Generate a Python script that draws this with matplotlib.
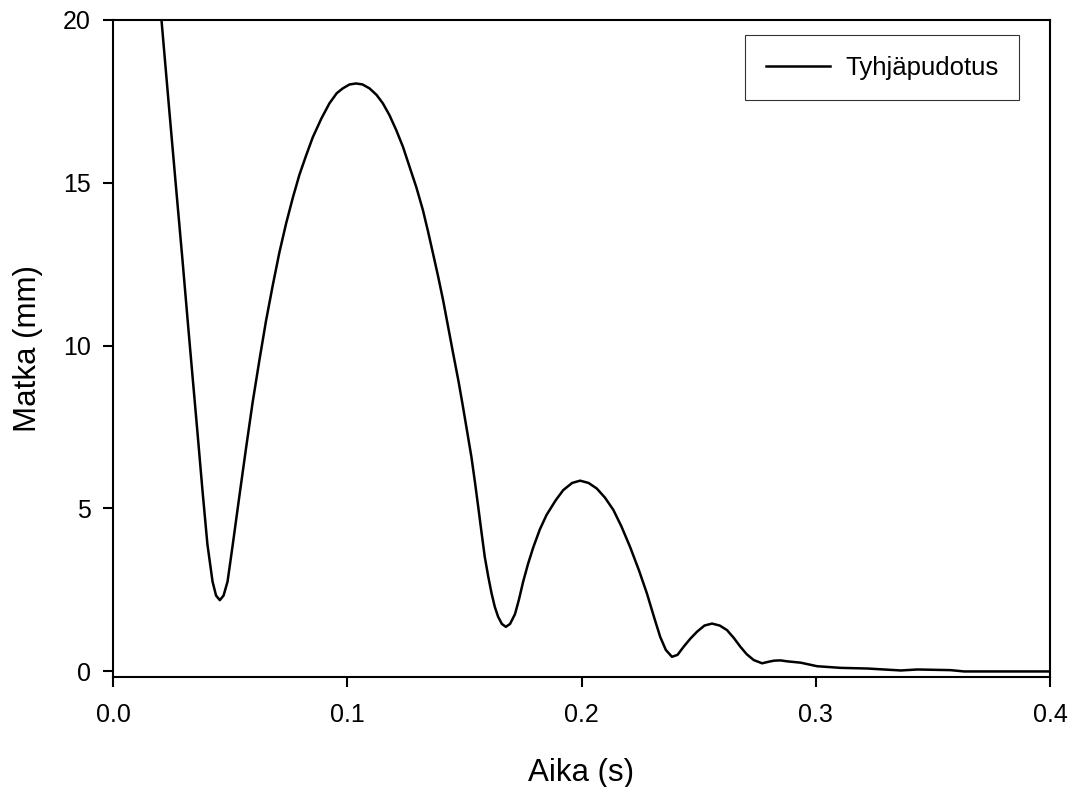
import matplotlib
matplotlib.use("Agg")
import matplotlib.pyplot as plt
from matplotlib.ticker import FormatStrFormatter

plt.rcParams['font.family'] = ['Liberation Sans', 'DejaVu Sans']

# curve (time in s, distance in mm)
aika = [0.0207, 0.0240, 0.0268, 0.0297, 0.0322, 0.0339, 0.0361, 0.0382, 0.0403,
        0.0425, 0.0440, 0.0456, 0.0472, 0.0489, 0.0510, 0.0539, 0.0568, 0.0596,
        0.0625, 0.0653, 0.0682, 0.0710, 0.0739, 0.0768, 0.0796, 0.0825, 0.0853,
        0.0890, 0.0924, 0.0955, 0.0981, 0.1010, 0.1038, 0.1065, 0.1095, 0.1125,
        0.1152, 0.1180, 0.1209, 0.1238, 0.1266, 0.1295, 0.1323, 0.1345, 0.1366,
        0.1388, 0.1409, 0.1430, 0.1452, 0.1475, 0.1494, 0.1512, 0.1530, 0.1545,
        0.1559, 0.1573, 0.1587, 0.1602, 0.1616, 0.1630, 0.1644, 0.1660, 0.1677,
        0.1695, 0.1716, 0.1733, 0.1751, 0.1772, 0.1794, 0.1822, 0.1851, 0.1890,
        0.1922, 0.1960, 0.1994, 0.2030, 0.2065, 0.2100, 0.2136, 0.2170, 0.2207,
        0.2245, 0.2279, 0.2310, 0.2336, 0.2360, 0.2386, 0.2410, 0.2436, 0.2465,
        0.2493, 0.2525, 0.2557, 0.2590, 0.2621, 0.2650, 0.2678, 0.2705, 0.2735,
        0.2771, 0.2800, 0.2821, 0.2849, 0.2878, 0.2935, 0.3006, 0.3106, 0.3220,
        0.3363, 0.3434, 0.3576, 0.3633, 0.3997]
matka = [20.00, 17.25, 14.95, 12.60, 10.50, 9.10, 7.30, 5.55, 3.90,
         2.75, 2.32, 2.18, 2.32, 2.75, 3.82, 5.35, 6.85, 8.25,
         9.55, 10.75, 11.85, 12.85, 13.75, 14.55, 15.25, 15.85, 16.40,
         16.98, 17.44, 17.75, 17.90, 18.02, 18.05, 18.02, 17.90, 17.70,
         17.44, 17.08, 16.62, 16.10, 15.49, 14.86, 14.16, 13.50, 12.83,
         12.12, 11.40, 10.60, 9.76, 8.90, 8.12, 7.35, 6.58, 5.81,
         5.05, 4.27, 3.51, 2.90, 2.39, 1.97, 1.67, 1.45, 1.36,
         1.45, 1.75, 2.20, 2.75, 3.30, 3.80, 4.35, 4.80, 5.25,
         5.56, 5.78, 5.85, 5.78, 5.61, 5.33, 4.95, 4.45, 3.82,
         3.10, 2.39, 1.65, 1.05, 0.65, 0.44, 0.50, 0.75, 1.00,
         1.21, 1.40, 1.46, 1.40, 1.26, 1.02, 0.75, 0.52, 0.34,
         0.24, 0.29, 0.32, 0.33, 0.30, 0.26, 0.15, 0.10, 0.08,
         0.02, 0.05, 0.03, -0.01, -0.01]

x_ticks = [0.0, 0.1, 0.2, 0.3, 0.4]
y_ticks = [0, 5, 10, 15, 20]

fig = plt.figure(figsize=(10.73, 7.87), dpi=100)
ax = fig.add_axes([0.1053, 0.1398, 0.8733, 0.8348])

ax.plot(aika, matka, color='black', lw=1.8, label='Tyhjäpudotus')

ax.set_xlim(0, 0.4)
ax.set_ylim(-0.18, 20)
ax.set_xticks(x_ticks)
ax.set_yticks(y_ticks)
ax.xaxis.set_major_formatter(FormatStrFormatter('%.1f'))
ax.tick_params(direction='out', length=7, width=1.5, labelsize=18,
               top=False, right=False)
ax.tick_params(axis='x', pad=12)
ax.tick_params(axis='y', pad=9)
for sp in ax.spines.values():
    sp.set_linewidth(1.5)

ax.set_xlabel('Aika (s)', fontsize=22.5, labelpad=22)
ax.set_ylabel('Matka (mm)', fontsize=22.5, labelpad=14)

leg = ax.legend(loc='upper right', bbox_to_anchor=(0.967, 0.977), fontsize=18.5,
                frameon=True, fancybox=False, borderpad=0.8, handlelength=2.5,
                handletextpad=0.6, borderaxespad=0)
leg.get_frame().set_edgecolor('black')
leg.get_frame().set_linewidth(0.8)

fig.savefig('out.png', dpi=100)
